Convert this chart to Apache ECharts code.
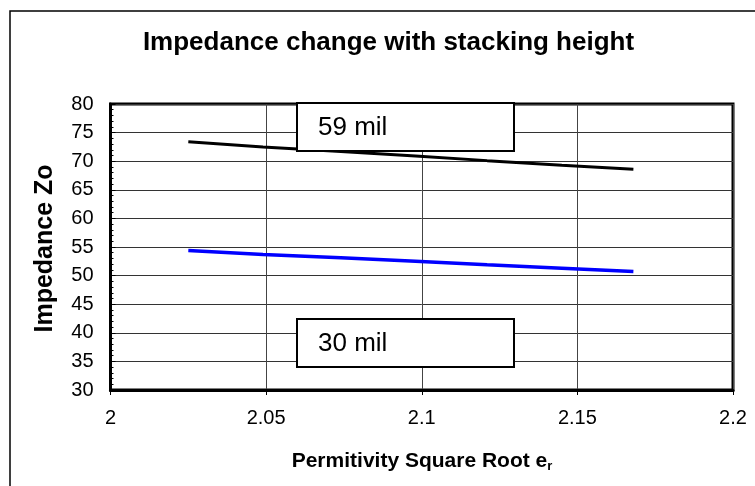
<!DOCTYPE html>
<html>
<head>
<meta charset="utf-8">
<script src="https://cdn.jsdelivr.net/npm/echarts@6/dist/echarts.min.js"></script>
<style>
html,body{margin:0;padding:0;background:#fff;}
#c{width:755px;height:486px;}
</style>
</head>
<body>
<div id="c"></div>
<script>
// Data
var sqrtEr = [2.025, 2.049, 2.074, 2.098, 2.121, 2.145, 2.168];
var z59mil = [73.4, 72.5, 71.7, 70.9, 70.1, 69.3, 68.6];
var z30mil = [54.4, 53.7, 53.1, 52.5, 51.9, 51.3, 50.7];
var xTicks = [2, 2.05, 2.1, 2.15, 2.2];
var yTicks = [30, 35, 40, 45, 50, 55, 60, 65, 70, 75, 80];

function pairs(xs, ys) { return xs.map(function (x, i) { return [x, ys[i]]; }); }

var FONT = '"Liberation Sans", Arial, sans-serif';
var chart = echarts.init(document.getElementById('c'), null, {renderer: 'canvas'});
chart.setOption({
  animation: false,
  backgroundColor: '#fff',
  grid: {left: 110.5, right: 22, top: 104, bottom: 96, show: true, borderColor: '#000', borderWidth: 3, backgroundColor: 'transparent'},
  xAxis: {
    type: 'value', min: xTicks[0], max: xTicks[xTicks.length - 1], interval: 0.05,
    axisLine: {show: true, lineStyle: {color: '#000', width: 3}},
    axisTick: {show: true, length: 5, lineStyle: {color: '#000', width: 1}},
    axisLabel: {color: '#000', fontSize: 20, fontFamily: FONT, margin: 18,
      formatter: function (v) { return String(+v.toFixed(2)); }},
    splitLine: {show: true, lineStyle: {color: '#444', width: 1}}
  },
  yAxis: {
    type: 'value', min: yTicks[0], max: yTicks[yTicks.length - 1], interval: 5,
    axisLine: {show: true, lineStyle: {color: '#000', width: 3}},
    axisTick: {show: true, inside: true, length: 5, lineStyle: {color: '#000', width: 1}},
    minorTick: {show: true, splitNumber: 5, length: 3, lineStyle: {color: '#000', width: 1}},
    axisLabel: {color: '#000', fontSize: 20, fontFamily: FONT, margin: 17},
    splitLine: {show: true, lineStyle: {color: '#333', width: 1}}
  },
  series: [
    {name: '59 mil', type: 'line', data: pairs(sqrtEr, z59mil), showSymbol: false, symbol: 'none',
      lineStyle: {color: '#000', width: 3}, z: 3},
    {name: '30 mil', type: 'line', data: pairs(sqrtEr, z30mil), showSymbol: false, symbol: 'none',
      lineStyle: {color: '#0000ff', width: 3.5}, z: 3}
  ],
  graphic: [
    {type: 'rect', z: 0, shape: {x: 10, y: 11, width: 800, height: 520}, style: {fill: 'none', stroke: '#000', lineWidth: 1.5}},
    {type: 'text', x: 388.5, y: 43, style: {text: 'Impedance change with stacking height', fontSize: 26, fontWeight: 'bold', fontFamily: FONT, fill: '#000', textAlign: 'center', textVerticalAlign: 'middle'}},
    {type: 'text', x: 45, y: 248.5, rotation: Math.PI / 2, style: {text: 'Impedance Zo', fontSize: 25, fontWeight: 'bold', fontFamily: FONT, fill: '#000', textAlign: 'center', textVerticalAlign: 'middle'}},
    {type: 'text', x: 422, y: 461, style: {
      text: '{m|Permitivity Square Root e}{s|r}',
      textAlign: 'center', textVerticalAlign: 'middle',
      rich: {
        m: {fontSize: 21, fontWeight: 'bold', fontFamily: FONT, fill: '#000'},
        s: {fontSize: 13, fontWeight: 'bold', fontFamily: FONT, fill: '#000', padding: [10, 0, 0, 0]}
      }}},
    {type: 'rect', z: 100, shape: {x: 297, y: 103, width: 217, height: 48}, style: {fill: '#fff', stroke: '#000', lineWidth: 2}},
    {type: 'text', z: 101, x: 318, y: 128, style: {text: '59 mil', fontSize: 26, fontFamily: FONT, fill: '#000', textAlign: 'left', textVerticalAlign: 'middle'}},
    {type: 'rect', z: 100, shape: {x: 297, y: 319, width: 217, height: 48}, style: {fill: '#fff', stroke: '#000', lineWidth: 2}},
    {type: 'text', z: 101, x: 318, y: 344, style: {text: '30 mil', fontSize: 26, fontFamily: FONT, fill: '#000', textAlign: 'left', textVerticalAlign: 'middle'}}
  ]
});
</script>
</body>
</html>
